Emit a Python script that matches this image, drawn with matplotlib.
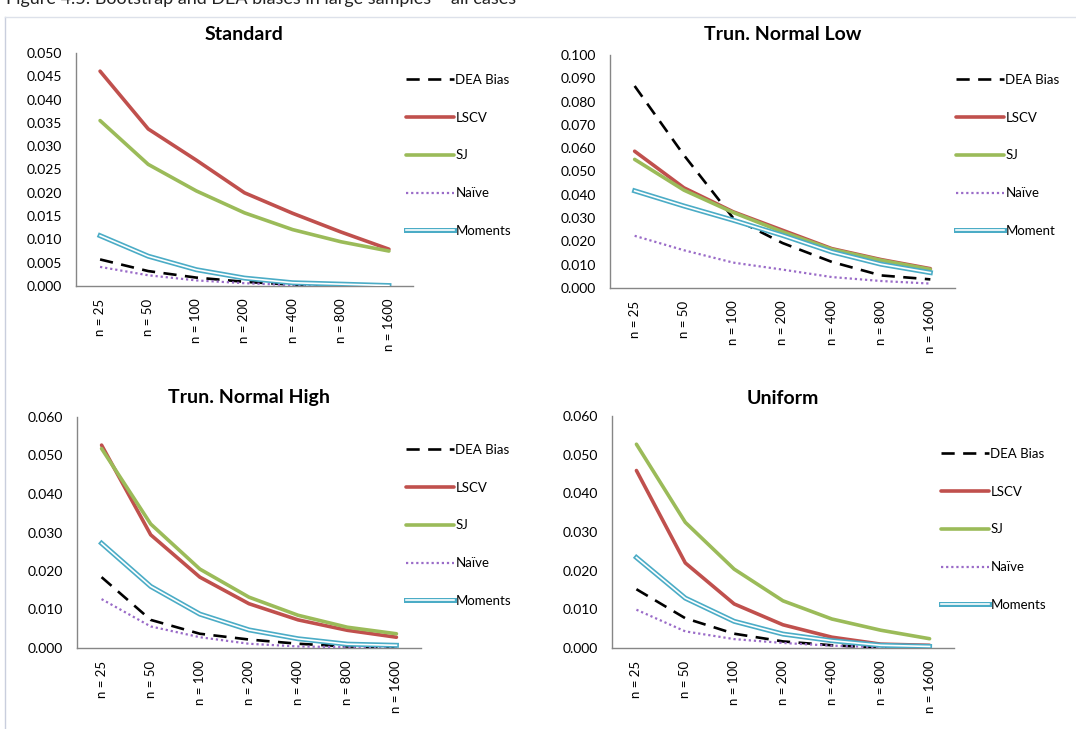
import matplotlib
matplotlib.use("Agg")
import matplotlib.pyplot as plt
import matplotlib.patheffects as pe
from matplotlib.lines import Line2D

plt.rcParams["font.family"] = ["Lato", "DejaVu Sans"]

# Sample sizes on the category axis
sizes = ["n = 25", "n = 50", "n = 100", "n = 200", "n = 400", "n = 800", "n = 1600"]

# Standard
std_dea = [0.0057, 0.0032, 0.0018, 0.0009, 0.0003, 0.0001, 0.0000]
std_lscv = [0.0461, 0.0337, 0.0270, 0.0200, 0.0156, 0.0116, 0.0079]
std_sj = [0.0355, 0.0261, 0.0204, 0.0157, 0.0121, 0.0095, 0.0075]
std_naive = [0.0041, 0.0023, 0.0012, 0.0006, 0.0002, 0.0001, 0.0000]
std_moments = [0.0108, 0.0064, 0.0035, 0.0017, 0.0007, 0.0004, 0.0001]

# Truncated normal, low
tnl_dea = [0.0867, 0.0570, 0.0300, 0.0193, 0.0112, 0.0054, 0.0037]
tnl_lscv = [0.0587, 0.0430, 0.0327, 0.0248, 0.0169, 0.0122, 0.0083]
tnl_sj = [0.0552, 0.0420, 0.0324, 0.0241, 0.0166, 0.0119, 0.0080]
tnl_naive = [0.0224, 0.0162, 0.0109, 0.0079, 0.0047, 0.0030, 0.0019]
tnl_moments = [0.0417, 0.0352, 0.0291, 0.0226, 0.0155, 0.0102, 0.0066]

# Truncated normal, high
tnh_dea = [0.0184, 0.0073, 0.0037, 0.0022, 0.0011, 0.0004, 0.0002]
tnh_lscv = [0.0527, 0.0294, 0.0184, 0.0115, 0.0073, 0.0046, 0.0028]
tnh_sj = [0.0518, 0.0322, 0.0205, 0.0132, 0.0085, 0.0054, 0.0037]
tnh_naive = [0.0127, 0.0056, 0.0028, 0.0011, 0.0004, 0.0002, 0.0000]
tnh_moments = [0.0272, 0.0160, 0.0088, 0.0047, 0.0024, 0.0010, 0.0007]

# Uniform
uni_dea = [0.0152, 0.0077, 0.0037, 0.0017, 0.0007, 0.0001, 0.0000]
uni_lscv = [0.0459, 0.0220, 0.0114, 0.0060, 0.0028, 0.0010, 0.0007]
uni_sj = [0.0527, 0.0325, 0.0204, 0.0122, 0.0075, 0.0046, 0.0024]
uni_naive = [0.0099, 0.0043, 0.0023, 0.0013, 0.0006, 0.0002, 0.0000]
uni_moments = [0.0234, 0.0129, 0.0069, 0.0036, 0.0019, 0.0007, 0.0004]

W, H = 1076, 729
fig = plt.figure(figsize=(W / 100, H / 100), dpi=100)


def px_axes(left, top, right, bottom):
    return fig.add_axes([left / W, 1 - bottom / H, (right - left) / W, (bottom - top) / H])


RED = "#C0504D"
GREEN = "#9BBB59"
PURPLE = "#9A6BC8"
CYAN = "#4BACC6"
SPINE = "#868686"

DOUBLE = [pe.Stroke(linewidth=3.6, foreground=CYAN), pe.Normal()]


def panel(box, title, series, ymax, ystep, moment_label, legend_xy, title_y):
    ax = px_axes(*box)
    x = list(range(len(sizes)))
    dea, lscv, sj, naive, mom = series
    ax.plot(x, dea, color="black", lw=1.9, dashes=(5, 3.2), label="DEA Bias")
    ax.plot(x, lscv, color=RED, lw=2.6, label="LSCV", solid_capstyle="round")
    ax.plot(x, sj, color=GREEN, lw=2.6, label="SJ", solid_capstyle="round")
    ax.plot(x, naive, color=PURPLE, lw=1.6, linestyle=(0, (1, 1.3)), label="Naïve")
    ax.plot(x, mom, color="white", lw=1.2, label=moment_label, path_effects=DOUBLE)
    ax.set_xlim(-0.5, len(sizes) - 0.5)
    ax.set_ylim(0, ymax)
    n = int(round(ymax / ystep))
    ax.set_yticks([i * ystep for i in range(n + 1)])
    ax.set_yticklabels([f"{i * ystep:.3f}" for i in range(n + 1)])
    ax.set_xticks(x)
    ax.set_xticklabels(sizes, rotation=90, va="top", ha="center")
    ax.tick_params(axis="y", length=0, pad=10, labelsize=10)
    ax.tick_params(axis="x", length=0, pad=9, labelsize=9.5)
    for s in ("top", "right"):
        ax.spines[s].set_visible(False)
    for s in ("left", "bottom"):
        ax.spines[s].set_color(SPINE)
        ax.spines[s].set_linewidth(1.0)
    ax.spines["bottom"].set_zorder(0.5)
    cx = (box[0] + box[2]) / 2 / W
    fig.text(cx, 1 - title_y / H, title, ha="center", va="center",
             fontsize=14, fontweight="bold")
    ax.legend(loc="upper left",
              bbox_to_anchor=(legend_xy[0] / W, 1 - legend_xy[1] / H),
              bbox_transform=fig.transFigure, frameon=False,
              fontsize=9.5, handlelength=3.6, handletextpad=0.15,
              labelspacing=1.95, borderpad=0, borderaxespad=0)
    return ax


panel((76, 53, 413, 286), "Standard",
      (std_dea, std_lscv, std_sj, std_naive, std_moments),
      0.050, 0.005, "Moments", (406, 74), 35)
panel((610, 55, 955, 288), "Trun. Normal Low",
      (tnl_dea, tnl_lscv, tnl_sj, tnl_naive, tnl_moments),
      0.100, 0.010, "Moment", (956, 74), 35)
panel((77, 417, 421, 648), "Trun. Normal High",
      (tnh_dea, tnh_lscv, tnh_sj, tnh_naive, tnh_moments),
      0.060, 0.010, "Moments", (406, 444), 398)
panel((612, 416, 954, 648), "Uniform",
      (uni_dea, uni_lscv, uni_sj, uni_naive, uni_moments),
      0.060, 0.010, "Moments", (941, 448), 398)

# Caption running off the top edge and the page frame lines
fig.text(6 / W, 1 - 4 / H, "Figure 4.5: Bootstrap and DEA biases in large samples – all cases",
         ha="left", va="baseline", fontsize=13, color="#222222")
fig.add_artist(Line2D([5 / W, 5 / W], [0, 1 - 17 / H], transform=fig.transFigure,
                      color="#C9CEDD", lw=1.0))
fig.add_artist(Line2D([5 / W, 1], [1 - 17 / H, 1 - 17 / H], transform=fig.transFigure,
                      color="#DDE1EA", lw=1.0))

fig.savefig("out.png", dpi=100)
